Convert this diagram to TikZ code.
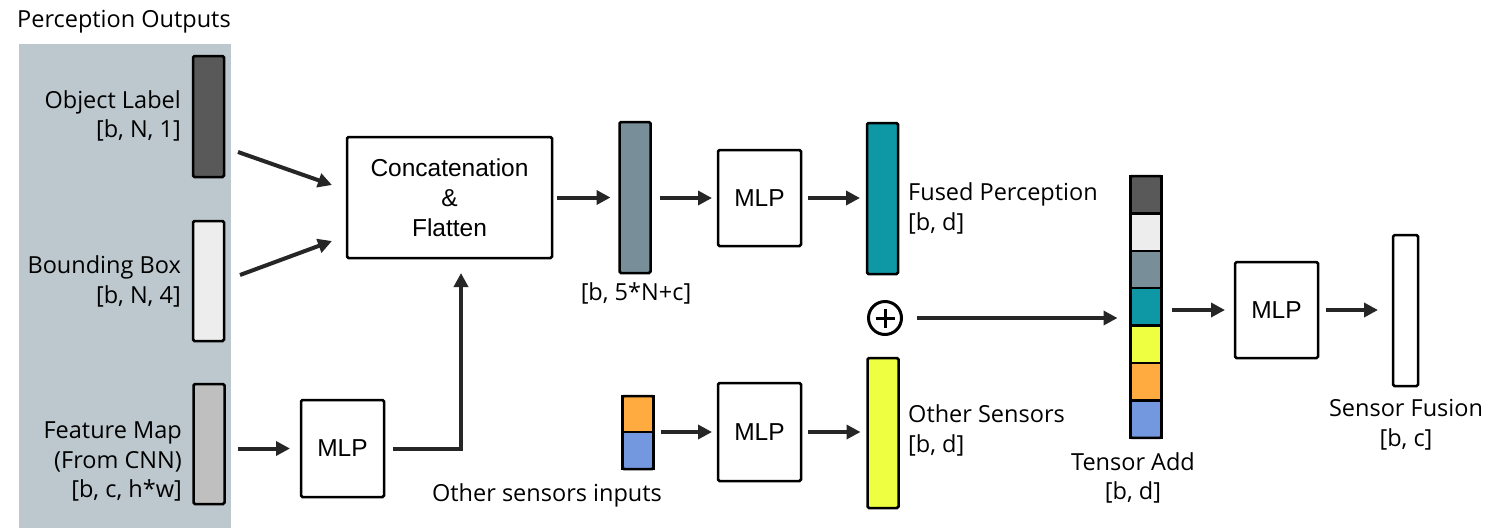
\documentclass[tikz,border=0pt]{standalone}
\usepackage{fontspec}
\setmainfont{Open Sans}
\newfontfamily\arialf{Liberation Sans}
\usetikzlibrary{arrows.meta,calc}
\definecolor{panelc}{HTML}{BCC8CE}
\definecolor{darkc}{HTML}{595959}
\definecolor{lightc}{HTML}{EDEDED}
\definecolor{featc}{HTML}{BFBFBF}
\definecolor{slatec}{HTML}{788F9A}
\definecolor{tealc}{HTML}{0E97A5}
\definecolor{yelc}{HTML}{EEFF41}
\definecolor{orac}{HTML}{FFAB40}
\definecolor{bluec}{HTML}{7398E0}
\definecolor{arrc}{HTML}{262626}
\tikzset{
  bar/.style={draw=black, line width=2.5pt, rounded corners=1.5pt, minimum width=31pt, inner sep=0pt, outer sep=0pt},
  seg/.style={draw=black, line width=2.5pt, minimum width=31pt, inner sep=0pt, outer sep=0pt},
  box/.style={draw=black, line width=2.5pt, rounded corners=1.5pt, fill=white, inner sep=0pt, outer sep=0pt, font=\arialf\fontsize{24.5}{30}\selectfont, align=center},
  lbl/.style={font=\fontsize{23.5}{29.5}\selectfont, inner sep=0pt},
  arr/.style={draw=arrc, line width=4pt, -{Triangle[length=14pt,width=14pt]}}
}
\begin{document}
\begin{tikzpicture}[x=1pt,y=-1pt]
\useasboundingbox (0,0) rectangle (1500,528);
\fill[white] (0,0) rectangle (1500,528);
\fill[panelc] (19,44) rectangle (231,528);
\node[lbl, anchor=west] (po) at (17,22) {Perception Outputs};

% left bars
\node[bar, fill=darkc, minimum height=121pt] (ol) at (208.5,116.5) {};
\node[bar, fill=lightc, minimum height=120pt] (bb) at (208.5,281) {};
\node[bar, fill=featc, minimum height=120pt] (fm) at (209,444) {};
\node[lbl, anchor=east, align=right] (oltxt) at (181,116) {Object Label\\{[b, N, 1]}};
\node[lbl, anchor=east, align=right] (bbtxt) at (181,281.5) {Bounding Box\\{[b, N, 4]}};
\node[lbl, anchor=east, align=right] (fmtxt) at (182,461.5) {Feature Map\\(From CNN)\\{[b, c, h*w]}};

% boxes
\node[box, minimum width=205pt, minimum height=121pt] (concat) at (449.5,197.5) {Concatenation\\\&\\Flatten};
\node[box, minimum width=83pt, minimum height=97pt] (mlp1) at (342.5,448.5) {MLP};
\node[box, minimum width=83pt, minimum height=96pt] (mlp2) at (759.5,198) {MLP};
\node[box, minimum width=83pt, minimum height=98pt] (mlp3) at (759.5,432) {MLP};
\node[box, minimum width=83pt, minimum height=96pt] (mlp4) at (1276.5,310) {MLP};

% middle bars
\node[bar, fill=slatec, minimum height=151pt] (flat) at (635,197.5) {};
\node[lbl] (flattxt) at (636,293) {[b, 5*N+c]};
\node[bar, fill=tealc, minimum height=151pt] (fused) at (882.5,198.5) {};
\node[lbl, anchor=west, align=left] (fusedtxt) at (908,208.5) {Fused Perception\\{[b, d]}};
\node[bar, fill=yelc, minimum height=150pt] (yel) at (883,433) {};
\node[lbl, anchor=west, align=left] (yeltxt) at (908,430.5) {Other Sensors\\{[b, d]}};

% other sensor inputs
\node[seg, fill=orac, minimum height=36pt] (oa) at (638,414) {};
\node[seg, fill=bluec, minimum height=37pt] (ob) at (638,450.5) {};
\draw[line width=2.5pt, rounded corners=1.5pt] (oa.north west) rectangle (ob.south east);
\node[lbl] (ositxt) at (547,495) {Other sensors inputs};

% plus
\node[circle, draw=black, line width=3pt, minimum size=33pt, inner sep=0pt] (plus) at (885,318) {};
\draw[line width=3pt] ([xshift=-9.5pt]plus.center) -- ([xshift=9.5pt]plus.center);
\draw[line width=3pt] ([yshift=-9.5pt]plus.center) -- ([yshift=9.5pt]plus.center);

% tensor stack
\node[seg, fill=darkc, minimum height=37.4pt] (s1) at (1146,194.7) {};
\node[seg, fill=lightc, minimum height=37.4pt] (s2) at (1146,232.1) {};
\node[seg, fill=slatec, minimum height=37.4pt] (s3) at (1146,269.5) {};
\node[seg, fill=tealc, minimum height=37.4pt] (s4) at (1146,306.9) {};
\node[seg, fill=yelc, minimum height=37.4pt] (s5) at (1146,344.3) {};
\node[seg, fill=orac, minimum height=37.4pt] (s6) at (1146,381.7) {};
\node[seg, fill=bluec, minimum height=37.4pt] (s7) at (1146,419.1) {};
\draw[line width=2.5pt, rounded corners=1.5pt] (s1.north west) rectangle (s7.south east);
\node[lbl, align=center] (tatxt) at (1133,478) {Tensor Add\\{[b, d]}};

% sensor fusion
\node[bar, fill=white, minimum width=25pt, minimum height=151pt] (sf) at (1405.5,310.5) {};
\node[lbl, align=center] (sftxt) at (1406,424.5) {Sensor Fusion\\{[b, c]}};

% arrows
\draw[arr] ([shift={(14,35.5)}]ol.east) -- ([shift={(-15,-12.5)}]concat.west);
\draw[arr] ([shift={(16,-6)}]bb.east) -- ([shift={(-15,43.5)}]concat.west);
\draw[arr] ([xshift=13pt]fm.east |- mlp1.west) -- ([xshift=-11pt]mlp1.west);
\draw[arr] ([xshift=9pt]mlp1.east) -| ([shift={(11.5,15)}]concat.south);
\draw[arr] ([xshift=5pt]concat.east) -- ([xshift=-9pt]flat.west |- concat.east);
\draw[arr] ([xshift=9pt]flat.east |- mlp2.west) -- ([xshift=-6pt]mlp2.west);
\draw[arr] ([xshift=7pt]mlp2.east) -- ([xshift=-7pt]fused.west |- mlp2.east);
\draw[arr] ([xshift=7pt]oa.south east) -- ([xshift=-6pt]mlp3.west);
\draw[arr] ([xshift=7pt]mlp3.east) -- ([xshift=-7pt]yel.west |- mlp3.east);
\draw[arr] ([xshift=14pt]plus.east) -- ([xshift=-13pt]s4.west |- plus.east);
\draw[arr] ([xshift=10pt]s4.east |- mlp4.west) -- ([xshift=-10pt]mlp4.west);
\draw[arr] ([xshift=8pt]mlp4.east) -- ([xshift=-15pt]sf.west |- mlp4.east);
\end{tikzpicture}
\end{document}
